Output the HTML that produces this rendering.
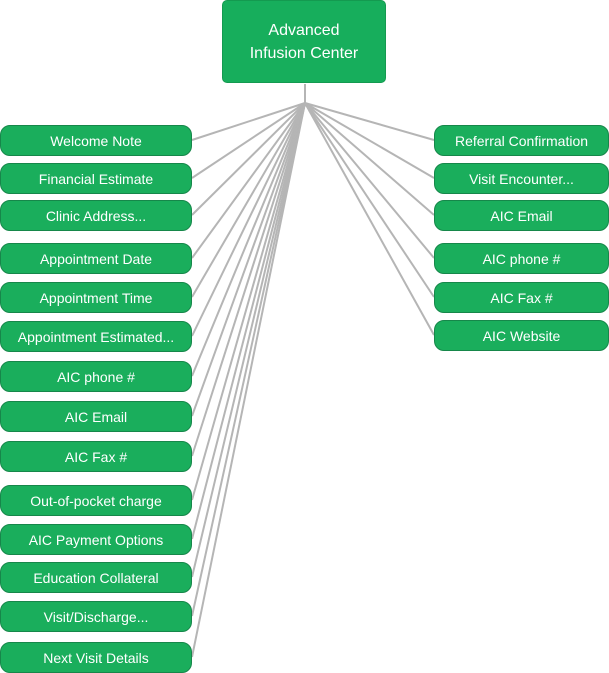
<!DOCTYPE html>
<html><head><style>
body{margin:0;width:609px;height:673px;background:#fff;position:relative;font-family:"Liberation Sans",sans-serif;overflow:hidden}
.b{position:absolute;height:29px;background:#1aae5c;border:1px solid #16874a;border-radius:10px;color:#fff;font-size:14px;display:flex;align-items:center;justify-content:center;box-sizing:border-box;height:31px}
.l{left:0;width:192px}.r{left:434px;width:175px}
.root{position:absolute;left:222px;top:0;width:164px;height:83px;background:#17ae5c;border:1px solid #149a50;box-sizing:border-box;border-radius:5px;color:#fff;font-size:16px;line-height:23px;text-align:center;display:flex;align-items:center;justify-content:center}
svg{position:absolute;left:0;top:0}
</style></head><body>
<svg width="609" height="673"><g stroke="#b5b5b5" stroke-width="2" fill="none">
<line x1="305" y1="84" x2="305" y2="103"/>
<line x1="305" y1="103" x2="192" y2="140"/><line x1="305" y1="103" x2="192" y2="178"/><line x1="305" y1="103" x2="192" y2="215"/><line x1="305" y1="103" x2="192" y2="258"/><line x1="305" y1="103" x2="192" y2="297"/><line x1="305" y1="103" x2="192" y2="336"/><line x1="305" y1="103" x2="192" y2="376"/><line x1="305" y1="103" x2="192" y2="416"/><line x1="305" y1="103" x2="192" y2="456"/><line x1="305" y1="103" x2="192" y2="500"/><line x1="305" y1="103" x2="192" y2="539"/><line x1="305" y1="103" x2="192" y2="577"/><line x1="305" y1="103" x2="192" y2="616"/><line x1="305" y1="103" x2="192" y2="657"/>
<line x1="305" y1="103" x2="434" y2="140"/><line x1="305" y1="103" x2="434" y2="178"/><line x1="305" y1="103" x2="434" y2="215"/><line x1="305" y1="103" x2="434" y2="258"/><line x1="305" y1="103" x2="434" y2="297"/><line x1="305" y1="103" x2="434" y2="335"/>
</g></svg>
<div class="root">Advanced<br>Infusion Center</div>
<div class="b l" style="top:125px">Welcome Note</div>
<div class="b l" style="top:163px">Financial Estimate</div>
<div class="b l" style="top:200px">Clinic Address...</div>
<div class="b l" style="top:243px">Appointment Date</div>
<div class="b l" style="top:282px">Appointment Time</div>
<div class="b l" style="top:321px">Appointment Estimated...</div>
<div class="b l" style="top:361px">AIC phone #</div>
<div class="b l" style="top:401px">AIC Email</div>
<div class="b l" style="top:441px">AIC Fax #</div>
<div class="b l" style="top:485px">Out-of-pocket charge</div>
<div class="b l" style="top:524px">AIC Payment Options</div>
<div class="b l" style="top:562px">Education Collateral</div>
<div class="b l" style="top:601px">Visit/Discharge...</div>
<div class="b l" style="top:642px">Next Visit Details</div>
<div class="b r" style="top:125px">Referral Confirmation</div>
<div class="b r" style="top:163px">Visit Encounter...</div>
<div class="b r" style="top:200px">AIC Email</div>
<div class="b r" style="top:243px">AIC phone #</div>
<div class="b r" style="top:282px">AIC Fax #</div>
<div class="b r" style="top:320px">AIC Website</div>
</body></html>
